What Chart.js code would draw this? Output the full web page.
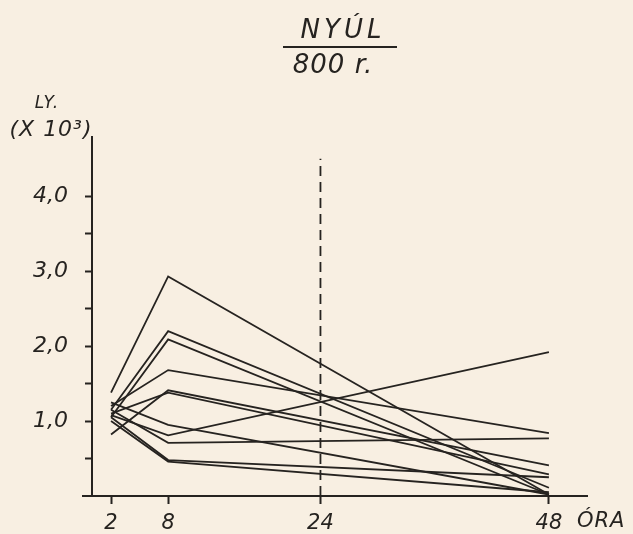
<!DOCTYPE html>
<html>
<head>
<meta charset="utf-8">
<script src="https://cdn.jsdelivr.net/npm/chart.js@4"></script>
<style>
  html, body { margin: 0; padding: 0; background: #f8efe2; }
  #wrap { width: 633px; height: 534px; }
</style>
</head>
<body>
<div id="wrap"><canvas id="lyChart" width="633" height="534"></canvas></div>
<script>
// hours after irradiation
const hours = [2, 8, 48]
const xTicks = [2, 8, 24, 48]
const yTicks = [0.5, 1, 1.5, 2, 2.5, 3, 3.5, 4]

// Ly (x 10^3), one array per animal
const animal1 = [1.38, 2.93, 0.02]
const animal2 = [1.15, 2.20, 0.11]
const animal3 = [1.05, 2.09, 0.02]
const animal4 = [1.20, 1.68, 0.84]
const animal5 = [0.82, 1.41, 0.41]
const animal6 = [1.10, 1.38, 0.29]
const animal7 = [1.25, 0.95, 0.02]
const animal8 = [1.08, 0.81, 1.92]
const animal9 = [1.15, 0.71, 0.77]
const animal10 = [1.05, 0.48, 0.25]
const animal11 = [1.00, 0.46, 0.05]

const markerHour = 24
const markerTop = 4.5

const animals = [animal1, animal2, animal3, animal4, animal5, animal6,
                 animal7, animal8, animal9, animal10, animal11]

const ink = '#262320'
const handFont = '"DejaVu Sans", sans-serif'

var datasets = animals.map(function(vals, i) {
    return {
        label: 'nyúl ' + (i + 1),
        data: vals.map((v, j) => ({x: hours[j], y: v})),
        borderColor: ink,
        borderWidth: 1.8,
        pointRadius: 0,
        fill: false,
        tension: 0
    }
})
datasets.push({
    label: '24 óra',
    data: [{x: markerHour, y: 0}, {x: markerHour, y: markerTop}],
    borderColor: ink,
    borderWidth: 1.8,
    borderDash: [10, 6],
    pointRadius: 0,
    fill: false
})

// title, axis caption and unit drawn as text
const labelsPlugin = {
    id: 'handLabels',
    afterDraw(chart) {
        const ctx = chart.ctx
        ctx.save()
        ctx.fillStyle = ink
        ctx.strokeStyle = ink
        ctx.textBaseline = 'middle'
        ctx.textAlign = 'center'
        ctx.letterSpacing = '4px'
        ctx.font = 'italic 26px ' + handFont
        ctx.fillText('NYÚL', 343, 31)
        ctx.letterSpacing = '1px'
        ctx.fillText('800 r.', 333, 66)
        ctx.lineWidth = 2
        ctx.beginPath()
        ctx.moveTo(283, 47)
        ctx.lineTo(397, 47)
        ctx.stroke()

        ctx.letterSpacing = '1px'
        ctx.font = 'italic 17px ' + handFont
        ctx.fillText('LY.', 47, 104)
        ctx.font = 'italic 22px ' + handFont
        ctx.fillText('(X 10³)', 51, 130)

        ctx.textAlign = 'left'
        ctx.letterSpacing = '1px'
        ctx.font = 'italic 21px ' + handFont
        ctx.fillText('ÓRA', 577, 522)

        // axis line runs a little past the y axis on the left
        const yPix = chart.scales.y.getPixelForValue(0)
        ctx.lineWidth = 2
        ctx.beginPath()
        ctx.moveTo(82, yPix)
        ctx.lineTo(chart.chartArea.left, yPix)
        ctx.stroke()
        ctx.restore()
    }
}

var chart = new Chart(document.getElementById('lyChart').getContext('2d'), {
    type: 'line',
    data: { datasets: datasets },
    options: {
        responsive: false,
        animation: false,
        layout: { padding: { left: 0, top: 137, right: 46, bottom: 0 } },
        plugins: {
            legend: { display: false },
            tooltip: { enabled: false }
        },
        scales: {
            x: {
                type: 'linear',
                min: 0,
                max: 52,
                afterBuildTicks: function(scale) {
                    scale.ticks = xTicks.map(v => ({value: v}))
                },
                afterFit: function(scale) { scale.height = 38 },
                grid: { drawOnChartArea: false, drawTicks: true, tickLength: 8, color: ink, tickWidth: 2 },
                border: { display: true, color: ink, width: 2 },
                ticks: {
                    color: ink,
                    padding: 7,
                    maxRotation: 0,
                    autoSkip: false,
                    font: { family: handFont, size: 21, style: 'italic' },
                    callback: v => String(v)
                }
            },
            y: {
                min: 0,
                max: 4.79,
                afterBuildTicks: function(scale) {
                    scale.ticks = yTicks.map(v => ({value: v}))
                },
                afterFit: function(scale) { scale.width = 92 },
                grid: { drawOnChartArea: false, drawTicks: true, tickLength: 7, color: ink, tickWidth: 2 },
                border: { display: true, color: ink, width: 2 },
                ticks: {
                    color: ink,
                    padding: 17,
                    autoSkip: false,
                    font: { family: handFont, size: 22, style: 'italic' },
                    callback: function(v) {
                        if (Number.isInteger(v)) return v.toFixed(1).replace('.', ',')
                        return ''
                    }
                }
            }
        }
    },
    plugins: [labelsPlugin]
})
</script>
</body>
</html>
